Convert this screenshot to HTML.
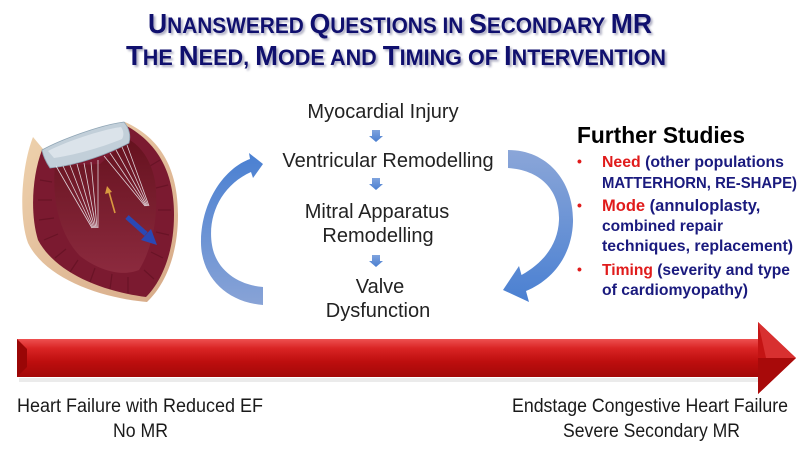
<!DOCTYPE html>
<html>
<head>
<meta charset="utf-8">
<style>
  html,body{margin:0;padding:0;background:#fff;}
  svg{display:block;}
  text{font-family:"Liberation Sans",Arial,sans-serif;}
</style>
</head>
<body>
<svg width="800" height="450" viewBox="0 0 800 450" xmlns="http://www.w3.org/2000/svg">
  <defs>
    <linearGradient id="redShaft" x1="0" y1="0" x2="0" y2="1">
      <stop offset="0" stop-color="#ee5050"/>
      <stop offset="0.25" stop-color="#d92424"/>
      <stop offset="0.6" stop-color="#bd0e0e"/>
      <stop offset="1" stop-color="#a30808"/>
    </linearGradient>
    <linearGradient id="leftArr" x1="0" y1="0" x2="0" y2="1">
      <stop offset="0" stop-color="#4a80d2"/>
      <stop offset="1" stop-color="#88a3d6"/>
    </linearGradient>
    <linearGradient id="rightArr" x1="0" y1="0" x2="0" y2="1">
      <stop offset="0" stop-color="#8ba6d8"/>
      <stop offset="1" stop-color="#4a80d2"/>
    </linearGradient>
    <linearGradient id="smallArr" x1="0" y1="0" x2="0" y2="1">
      <stop offset="0" stop-color="#7fa3de"/>
      <stop offset="1" stop-color="#4a7ed0"/>
    </linearGradient>
    <linearGradient id="beige" x1="0" y1="0" x2="1" y2="1">
      <stop offset="0" stop-color="#efd3ae"/>
      <stop offset="1" stop-color="#d6a987"/>
    </linearGradient>
    <linearGradient id="cavity" x1="0" y1="0" x2="0" y2="1">
      <stop offset="0" stop-color="#66121f"/>
      <stop offset="1" stop-color="#8c2a3e"/>
    </linearGradient>
    <filter id="blur1" x="-5%" y="-20%" width="110%" height="140%">
      <feGaussianBlur stdDeviation="1"/>
    </filter>
  </defs>

  <!-- Title shadow -->
  <g fill="#9a9ab4" opacity="0.8" filter="url(#blur1)" font-weight="bold">
    <text x="150" y="35" font-size="28" textLength="504" lengthAdjust="spacingAndGlyphs">U<tspan font-size="22">NANSWERED </tspan>Q<tspan font-size="22">UESTIONS IN </tspan>S<tspan font-size="22">ECONDARY </tspan>MR</text>
    <text x="128" y="67" font-size="28" textLength="540" lengthAdjust="spacingAndGlyphs">T<tspan font-size="22">HE </tspan>N<tspan font-size="22">EED, </tspan>M<tspan font-size="22">ODE AND </tspan>T<tspan font-size="22">IMING OF </tspan>I<tspan font-size="22">NTERVENTION</tspan></text>
  </g>
  <!-- Title -->
  <g fill="#10106e" font-weight="bold">
    <text x="148" y="33" font-size="28" textLength="504" lengthAdjust="spacingAndGlyphs">U<tspan font-size="22">NANSWERED </tspan>Q<tspan font-size="22">UESTIONS IN </tspan>S<tspan font-size="22">ECONDARY </tspan>MR</text>
    <text x="126" y="65" font-size="28" textLength="540" lengthAdjust="spacingAndGlyphs">T<tspan font-size="22">HE </tspan>N<tspan font-size="22">EED, </tspan>M<tspan font-size="22">ODE AND </tspan>T<tspan font-size="22">IMING OF </tspan>I<tspan font-size="22">NTERVENTION</tspan></text>
  </g>

  <!-- Heart illustration -->
  <g>
    <path d="M 33,137 C 22,165 18,215 28,243 C 45,278 100,298 147,302 C 165,285 178,255 178,215 C 178,175 165,140 125,122 L 43,149 Z" fill="url(#beige)"/>
    <path d="M 42,150 C 32,176 30,214 38,240 C 55,272 100,291 146,297 C 162,281 174,252 174,215 C 174,178 162,145 125,125 Z" fill="#7b1a30"/>
    <g stroke="#5e0f20" stroke-width="1.2" fill="none" opacity="0.6">
      <path d="M 40,180 L 52,182 M 38,200 L 52,200 M 39,220 L 54,218 M 44,240 L 58,234 M 55,258 L 66,249 M 70,272 L 78,260 M 90,282 L 95,268 M 110,289 L 112,274 M 128,293 L 128,277"/>
      <path d="M 160,160 L 150,166 M 168,185 L 156,188 M 171,210 L 158,210 M 169,235 L 156,232 M 163,258 L 151,252 M 154,279 L 144,270"/>
    </g>
    <path d="M 55,166 C 52,196 58,233 80,256 C 100,271 122,277 139,270 C 154,246 159,210 155,181 C 151,160 141,146 128,139 L 100,164 Z" fill="url(#cavity)"/>
    <path d="M 42,150 C 60,140 100,125 124,122 C 129,128 131,135 129,143 C 110,153 80,165 50,168 C 46,162 43,156 42,150 Z" fill="#c2cfd9" stroke="#8fa5b5" stroke-width="0.8"/>
    <path d="M 48,151 C 65,142 100,130 121,127 C 124,131 124,136 122,139 C 105,146 80,154 54,158 Z" fill="#dbe3ea"/>
    <g stroke="#f2f2f6" stroke-width="0.8" opacity="0.85" fill="none">
      <path d="M 56,166 L 92,228 M 63,166 L 93,228 M 70,165 L 94,228 M 77,164 L 95,228 M 84,163 L 96,228 M 91,162 L 97,228 M 98,160 L 98,228"/>
      <path d="M 104,156 L 145,206 M 110,153 L 146,206 M 116,150 L 147,206 M 122,147 L 148,206 M 127,145 L 149,206"/>
    </g>
    <line x1="115" y1="213" x2="109" y2="192" stroke="#d99a40" stroke-width="1.6"/>
    <polygon points="107,186 105,194 112,192" fill="#d99a40"/>
    <line x1="127" y1="217" x2="146" y2="234" stroke="#2a48b4" stroke-width="5"/>
    <polygon points="141,240 151,229 157,245" fill="#2a48b4"/>
  </g>

  <!-- Left curved arrow -->
  <path d="M 250,159 L 249,153 L 263,164 L 253,178 L 251,172 C 222,185 207,215 212,245 C 216,270 238,285 263,287 L 263,305 C 225,302 200,275 201,240 C 202,200 225,168 250,159 Z" fill="url(#leftArr)"/>
  <!-- Right curved arrow -->
  <path d="M 508,150 C 548,150 574,182 573,222 C 572,255 553,280 526,291 L 529,302 L 503,290 L 519,266 L 521.5,275 C 543,263 558,245 559,220 C 560,190 540,170 508,168 Z" fill="url(#rightArr)"/>

  <!-- Center texts -->
  <g fill="#222" font-size="20" text-anchor="middle">
    <text x="383" y="118">Myocardial Injury</text>
    <text x="388" y="167">Ventricular Remodelling</text>
    <text x="377" y="218">Mitral Apparatus</text>
    <text x="378" y="242">Remodelling</text>
    <text x="380" y="293">Valve</text>
    <text x="378" y="317">Dysfunction</text>
  </g>

  <!-- Small down arrows -->
  <g fill="url(#smallArr)">
    <path d="M 372,130 L 380,130 L 380,136 L 383,136 L 376,142 L 369,136 L 372,136 Z"/>
    <path d="M 372,178 L 380,178 L 380,184 L 383,184 L 376,190 L 369,184 L 372,184 Z"/>
    <path d="M 372,255 L 380,255 L 380,261 L 383,261 L 376,267 L 369,261 L 372,261 Z"/>
  </g>

  <!-- Further studies -->
  <text x="577" y="143" font-size="23" font-weight="bold" fill="#000" textLength="168" lengthAdjust="spacingAndGlyphs">Further Studies</text>
  <g fill="#e01b1b" font-size="14" font-weight="bold">
    <text x="577" y="166">•</text>
    <text x="577" y="210">•</text>
    <text x="577" y="274">•</text>
  </g>
  <g font-size="16" font-weight="bold" fill="#1a1a7e">
    <text x="602" y="167" textLength="182" lengthAdjust="spacingAndGlyphs"><tspan fill="#e01b1b">Need</tspan> (other populations</text>
    <text x="602" y="188" textLength="195" lengthAdjust="spacingAndGlyphs">MATTERHORN, RE-SHAPE)</text>
    <text x="602" y="211" font-size="16.5"><tspan fill="#e01b1b">Mode</tspan> (annuloplasty,</text>
    <text x="602" y="231" textLength="121" lengthAdjust="spacingAndGlyphs">combined repair</text>
    <text x="602" y="251" textLength="191" lengthAdjust="spacingAndGlyphs">techniques, replacement)</text>
    <text x="602" y="275" textLength="188" lengthAdjust="spacingAndGlyphs"><tspan fill="#e01b1b">Timing</tspan> (severity and type</text>
    <text x="602" y="295" textLength="146" lengthAdjust="spacingAndGlyphs">of cardiomyopathy)</text>
  </g>

  <!-- Red progression arrow -->
  <rect x="19" y="378" width="740" height="4" fill="#ddd" opacity="0.6"/>
  <rect x="17" y="339" width="743" height="38" fill="url(#redShaft)"/>
  <polygon points="17,339 27,349 27,367 17,377" fill="#9a0606"/>
  <polygon points="758,322 796,358 758,394" fill="#c41414"/>
  <polygon points="758,322 796,358 766,358" fill="#d83030"/>
  <polygon points="758,358 796,358 758,394" fill="#a80a0a"/>

  <!-- Bottom labels -->
  <g fill="#1a1a1a" font-size="19">
    <text x="17" y="412" textLength="246" lengthAdjust="spacingAndGlyphs">Heart Failure with Reduced EF</text>
    <text x="113" y="437" textLength="55" lengthAdjust="spacingAndGlyphs">No MR</text>
    <text x="512" y="412" textLength="276" lengthAdjust="spacingAndGlyphs">Endstage Congestive Heart Failure</text>
    <text x="563" y="437" textLength="177" lengthAdjust="spacingAndGlyphs">Severe Secondary MR</text>
  </g>
</svg>
</body>
</html>
